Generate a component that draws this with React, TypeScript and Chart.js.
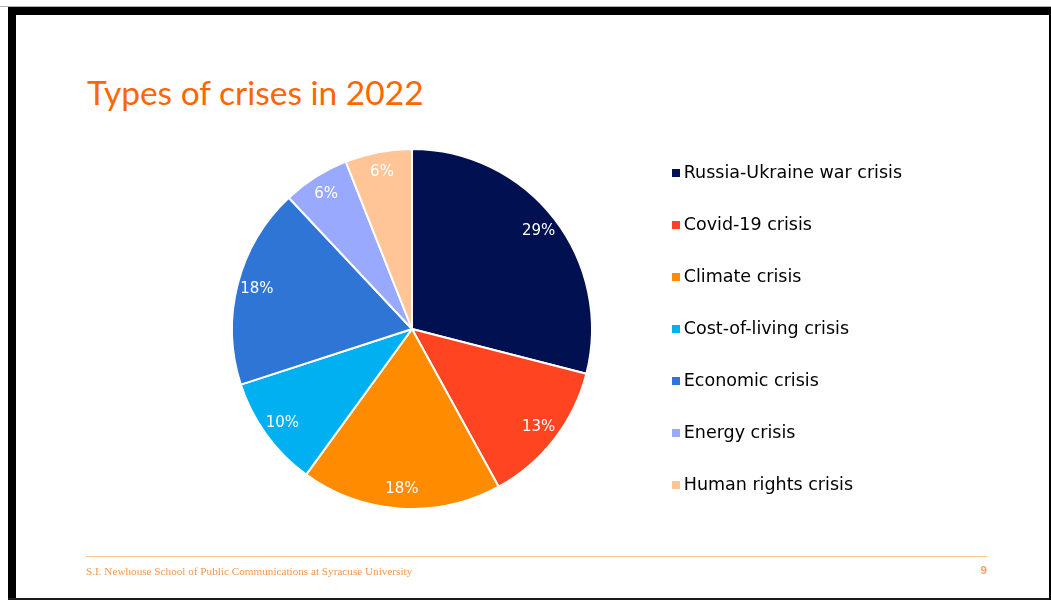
import React, { useEffect, useRef } from "react";
import { Chart, registerables } from "chart.js";

Chart.register(...registerables);

// ---- data ----
const categories = [
  "Russia-Ukraine war crisis",
  "Covid-19 crisis",
  "Climate crisis",
  "Cost-of-living crisis",
  "Economic crisis",
  "Energy crisis",
  "Human rights crisis",
];
const shares = [29, 13, 18, 10, 18, 6, 6];
const sliceColors = ["#001050", "#FF4422", "#FF8C00", "#00B0F0", "#2E75D6", "#98A9FE", "#FFC597"];
const chartTitle = "Types of crises in 2022";
const footerText = "S.I. Newhouse School of Public Communications at Syracuse University";
const pageNumber = "9";

// ---- layout ----
const W = 1051;
const H = 600;
const LEGEND_FONT = 17.5;
const LEGEND_PAD = 34.5;
const LEGEND_BOX = 2;
const LEGEND_LEFT = 638.5;
const PIE_CX = 412;
const PIE_RADIUS = 180;
const PAD_TOP = 99;
const PAD_BOTTOM = 41;

const pctLabels = {
  id: "pctLabels",
  afterDatasetsDraw(chart: any) {
    const ctx = chart.ctx;
    const meta = chart.getDatasetMeta(0);
    const data = chart.data.datasets[0].data as number[];
    const total = data.reduce((a, b) => a + b, 0);
    ctx.save();
    ctx.font = '15px "DejaVu Sans"';
    ctx.fillStyle = "#ffffff";
    ctx.textAlign = "center";
    ctx.textBaseline = "middle";
    meta.data.forEach((arc: any, i: number) => {
      const { x, y, startAngle, endAngle, outerRadius } = arc.getProps(
        ["x", "y", "startAngle", "endAngle", "outerRadius"],
        true
      );
      const mid = (startAngle + endAngle) / 2;
      const r = outerRadius * 0.89;
      ctx.fillText(
        Math.round((data[i] / total) * 100) + "%",
        x + Math.cos(mid) * r,
        y + Math.sin(mid) * r
      );
    });
    ctx.restore();
  },
};

export default function App() {
  const ref = useRef<HTMLCanvasElement | null>(null);

  useEffect(() => {
    const canvas = ref.current;
    if (!canvas) return;
    const mctx = canvas.getContext("2d")!;
    mctx.font = `${LEGEND_FONT}px "DejaVu Sans"`;
    const maxText = Math.max(...categories.map((c) => mctx.measureText(c).width));
    const legendWidth = LEGEND_PAD + LEGEND_BOX + LEGEND_FONT / 2 + maxText + 10;
    const padRight = W - LEGEND_LEFT - legendWidth;
    const padLeft = 2 * PIE_CX - LEGEND_LEFT;

    const baseGen =
      (Chart as any).overrides?.doughnut?.plugins?.legend?.labels?.generateLabels ||
      (Chart as any).overrides?.pie?.plugins?.legend?.labels?.generateLabels;

    const chart = new Chart(canvas, {
      type: "pie",
      data: {
        labels: categories,
        datasets: [
          {
            data: shares,
            backgroundColor: sliceColors,
            borderColor: "#ffffff",
            borderWidth: 2,
          },
        ],
      },
      options: {
        responsive: false,
        animation: false,
        devicePixelRatio: 1,
        radius: PIE_RADIUS,
        layout: {
          padding: { left: padLeft, right: padRight, top: PAD_TOP, bottom: PAD_BOTTOM },
        },
        plugins: {
          tooltip: { enabled: false },
          legend: {
            position: "right",
            labels: {
              usePointStyle: true,
              boxWidth: LEGEND_BOX,
              padding: LEGEND_PAD,
              color: "#000000",
              font: { family: '"DejaVu Sans"', size: LEGEND_FONT },
              generateLabels(ch: any) {
                const base = baseGen(ch);
                return base.map((item: any, i: number) => {
                  const c = document.createElement("canvas");
                  c.width = 12;
                  c.height = 8;
                  const g = c.getContext("2d")!;
                  g.fillStyle = sliceColors[i % sliceColors.length];
                  g.fillRect(4, 0, 8, 8);
                  return { ...item, pointStyle: c, lineWidth: 0 };
                });
              },
            },
          },
        },
      } as any,
      plugins: [pctLabels],
    });
    return () => chart.destroy();
  }, []);

  return (
    <div
      style={{
        position: "fixed",
        left: 0,
        top: 0,
        width: W,
        height: H,
        background: "#ffffff",
        overflow: "hidden",
      }}
    >
      {/* frame */}
      <div style={{ position: "absolute", left: 0, top: 6, width: W, height: 1, background: "#b0b0b0" }} />
      <div style={{ position: "absolute", left: 8, top: 7, width: W - 8, height: 8, background: "#000" }} />
      <div style={{ position: "absolute", left: 8, top: 7, width: 8, height: H - 7, background: "#000" }} />
      <div style={{ position: "absolute", left: 8, top: 598, width: W - 8, height: 2, background: "#1a1a1a" }} />
      <div style={{ position: "absolute", left: 1049, top: 7, width: 2, height: H - 7, background: "#000" }} />

      {/* title */}
      <div
        style={{
          position: "absolute",
          left: 87,
          top: 76,
          fontFamily: "Lato, sans-serif",
          fontSize: 33.5,
          lineHeight: 1,
          color: "#FF6600",
          whiteSpace: "nowrap",
        }}
      >
        {chartTitle}
      </div>

      <canvas ref={ref} width={W} height={H} style={{ position: "absolute", left: 0, top: 0 }} />

      {/* footer */}
      <div style={{ position: "absolute", left: 86, top: 556, width: 901, height: 1, background: "#FFC38C" }} />
      <div
        style={{
          position: "absolute",
          left: 86,
          top: 566,
          fontFamily: '"Liberation Serif", serif',
          fontSize: 11.2,
          lineHeight: 1,
          color: "#F5964C",
          whiteSpace: "nowrap",
        }}
      >
        {footerText}
      </div>
      <div
        style={{
          position: "absolute",
          left: 937,
          width: 50,
          top: 565,
          textAlign: "right",
          fontFamily: '"Liberation Sans", sans-serif',
          fontSize: 11.5,
          fontWeight: "bold",
          lineHeight: 1,
          color: "#F7A060",
        }}
      >
        {pageNumber}
      </div>
    </div>
  );
}
